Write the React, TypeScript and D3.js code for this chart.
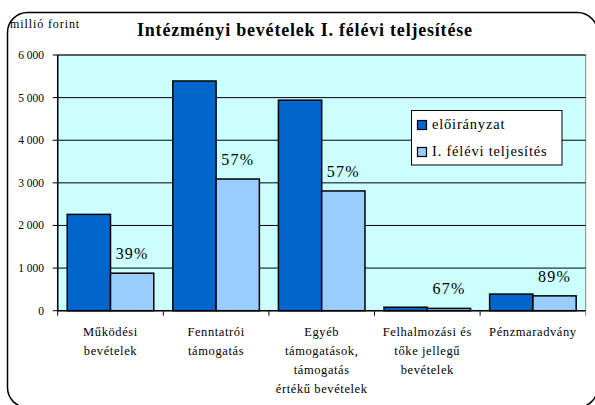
import React from 'react';
import * as d3 from 'd3';

// categories (multi-line labels) and the two series, in million HUF
const categories = [
  ['Működési', 'bevételek'],
  ['Fenntatrói', 'támogatás'],
  ['Egyéb', 'támogatások,', 'támogatás', 'értékű bevételek'],
  ['Felhalmozási és', 'tőke jellegű', 'bevételek'],
  ['Pénzmaradvány'],
];
const seriesNames = ['előirányzat', 'I. félévi teljesítés'];
const plan = [2260, 5390, 4940, 81, 390];
const actual = [880, 3090, 2810, 54, 348];
const yTicks = [0, 1000, 2000, 3000, 4000, 5000, 6000];

const W = 595;
const H = 405;
const margin = { top: 55, right: 9.3, bottom: 94.3, left: 57.7 };
const colors = ['#0066CC', '#99CCFF'];
const serif = "'Liberation Serif', 'DejaVu Serif', serif";

export default function App() {
  const keys = categories.map((c, i) => String(i));

  const x = d3.scaleBand()
    .domain(keys)
    .range([margin.left, W - margin.right]);

  const xInner = d3.scaleBand()
    .domain(seriesNames)
    .range([0, x.bandwidth()])
    .paddingOuter(0.22);

  const y = d3.scaleLinear()
    .domain([0, 6000])
    .range([H - margin.bottom, margin.top]);

  const fmt = d3.formatLocale({ decimal: ',', thousands: ' ', grouping: [3], currency: ['', ''] }).format(',');

  const x0 = margin.left;
  const x1 = W - margin.right;
  const y0 = y(0);
  const yTop = y(6000);

  return (
    <svg width={W} height={H} style={{ position: 'absolute', left: 0, top: 0, fontFamily: serif }}>
      <rect x={0} y={0} width={W} height={H} fill="#fff" />
      {/* outer rounded frame */}
      <rect x={7.5} y={12.5} width={590} height={395} rx={20} fill="none" stroke="#000" strokeWidth={1.5} />

      <text x={10} y={28} style={{ fontFamily: serif }} fontSize={12} letterSpacing={0.9}>millió forint</text>
      <text x={304.5} y={36} style={{ fontFamily: serif }} textAnchor="middle" fontSize={18} fontWeight="bold"
        textLength={335} lengthAdjust="spacing">Intézményi bevételek I. félévi teljesítése</text>

      {/* plot area */}
      <rect x={x0} y={yTop} width={x1 - x0} height={y0 - yTop} fill="#CCFFFF" stroke="#808080" strokeWidth={1} />

      {yTicks.map(t => (
        <g key={t}>
          {t > 0 && <line x1={x0} x2={x1} y1={y(t)} y2={y(t)} stroke="#000" strokeWidth={1} />}
          <line x1={x0 - 5} x2={x0} y1={y(t)} y2={y(t)} stroke="#000" strokeWidth={1} />
          <text x={44} y={y(t) + 4} style={{ fontFamily: serif }} textAnchor="end" fontSize={11.5}>{fmt(t)}</text>
        </g>
      ))}

      {/* bars */}
      {keys.map((k, i) => {
        const vals = [plan[i], actual[i]];
        return (
          <g key={k}>
            {seriesNames.map((s, j) => (
              <rect key={s}
                x={(x(k) as number) + (xInner(s) as number)}
                y={y(vals[j])}
                width={xInner.bandwidth()}
                height={y0 - y(vals[j])}
                fill={colors[j]} stroke="#000" strokeWidth={1.5} />
            ))}
            <text
              x={(x(k) as number) + (xInner(seriesNames[1]) as number) + xInner.bandwidth() / 2}
              y={y(actual[i]) - 14}
              style={{ fontFamily: serif }} textAnchor="middle" fontSize={16} letterSpacing={1.2}>
              {Math.round(actual[i] / plan[i] * 100)}%
            </text>
          </g>
        );
      })}

      {/* axes */}
      <line x1={x0} x2={x0} y1={yTop} y2={y0} stroke="#000" strokeWidth={1.5} />
      <line x1={x0} x2={x1} y1={y0} y2={y0} stroke="#000" strokeWidth={1.5} />
      {keys.map(k => (
        <line key={k} x1={x(k) as number} x2={x(k) as number} y1={y0} y2={y0 + 5} stroke="#000" strokeWidth={1} />
      ))}
      <line x1={x1} x2={x1} y1={y0} y2={y0 + 5} stroke="#808080" strokeWidth={1} />

      {/* category labels */}
      {keys.map((k, i) => (
        <text key={k} x={(x(k) as number) + x.bandwidth() / 2} style={{ fontFamily: serif }} textAnchor="middle" fontSize={12.5} letterSpacing={0.6}>
          {categories[i].map((line, li) => (
            <tspan key={li} x={(x(k) as number) + x.bandwidth() / 2} y={336 + li * 19}>{line}</tspan>
          ))}
        </text>
      ))}

      {/* legend */}
      <rect x={411.5} y={110.5} width={150.5} height={54.5} fill="#fff" stroke="#000" strokeWidth={1} />
      {seriesNames.map((s, j) => (
        <g key={s}>
          <rect x={417.5} y={120.5 + j * 27} width={9} height={9} fill={colors[j]} stroke="#000" strokeWidth={1.2} />
          <text x={432} y={129 + j * 27} style={{ fontFamily: serif }} fontSize={14.5} letterSpacing={0.8}>{s}</text>
        </g>
      ))}
    </svg>
  );
}
